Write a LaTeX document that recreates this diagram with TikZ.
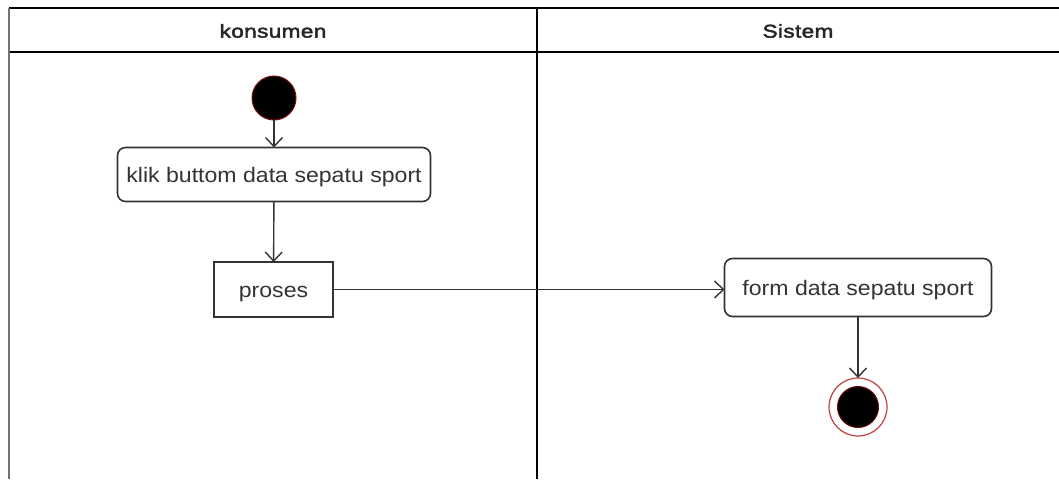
\documentclass[tikz,border=0pt]{standalone}
\usepackage{fontspec}
\usetikzlibrary{arrows.meta}
\newfontfamily\lblfont[FakeStretch=1.1]{Liberation Sans}
\newfontfamily\headfont[FakeStretch=1.22,LetterSpace=2,FakeBold=2.5]{Liberation Sans}
\definecolor{ink}{HTML}{333333}
\definecolor{rim}{HTML}{B01010}
\begin{document}
\begin{tikzpicture}[x=1pt,y=-1pt,
  every node/.style={inner sep=0pt, outer sep=0pt},
  labeltext/.style={font=\lblfont\fontsize{21}{24}\selectfont, text=ink,
    text height=17pt, text depth=2pt},
  action/.style={labeltext, draw=ink, line width=1.6pt, fill=white, rounded corners=8pt},
  plainbox/.style={labeltext, draw=ink, line width=1.6pt, fill=white},
  startdot/.style={circle, fill=black, draw=rim!70!black, line width=1pt, minimum size=44pt},
  enddot/.style={circle, draw=rim!80, line width=1.2pt, minimum size=58pt,
    path picture={\fill[black, draw=rim!60!black, line width=1pt]
      (path picture bounding box.center) circle (20.5pt);}},
  flow/.style={draw=ink, line width=1.4pt, -{Straight Barb[length=9pt,width=17pt,line width=1.4pt]}},
  lane/.style={line width=2pt, draw=black},
  header/.style={font=\headfont\fontsize{18.5}{22}\selectfont, text=black!85}]
\useasboundingbox (0,0) rectangle (1059,479);
\fill[white] (0,0) rectangle (1059,479);

% swimlane frame
\draw[lane] (9,8) -- (1059,8);
\draw[lane] (9,52) -- (1059,52);
\draw[line width=2pt, draw=black!55] (9,8) -- (9,479);
\draw[lane] (537,8) -- (537,479);
\node[header] (laneA) at (273,31) {konsumen};
\node[header] (laneB) at (798,31) {Sistem};

% activity nodes
\node[startdot] (start) at (274,98) {};
\node[action, minimum width=313pt, minimum height=54pt] (klik) at (274,174.5) {klik buttom data sepatu sport};
\node[plainbox, minimum width=119pt, minimum height=55pt] (proses) at (273.5,289.5) {proses};
\node[action, minimum width=267pt, minimum height=58pt] (form) at (858,287.5) {form data sepatu sport};
\node[enddot] (stop) at (858,407) {};

% control flow
\draw[flow] (start) -- (klik);
\draw[flow] (klik) -- (proses);
\draw[flow] (proses.east) -- (proses.east -| form.west);
\draw[flow] (form) -- (stop);
\end{tikzpicture}
\end{document}
